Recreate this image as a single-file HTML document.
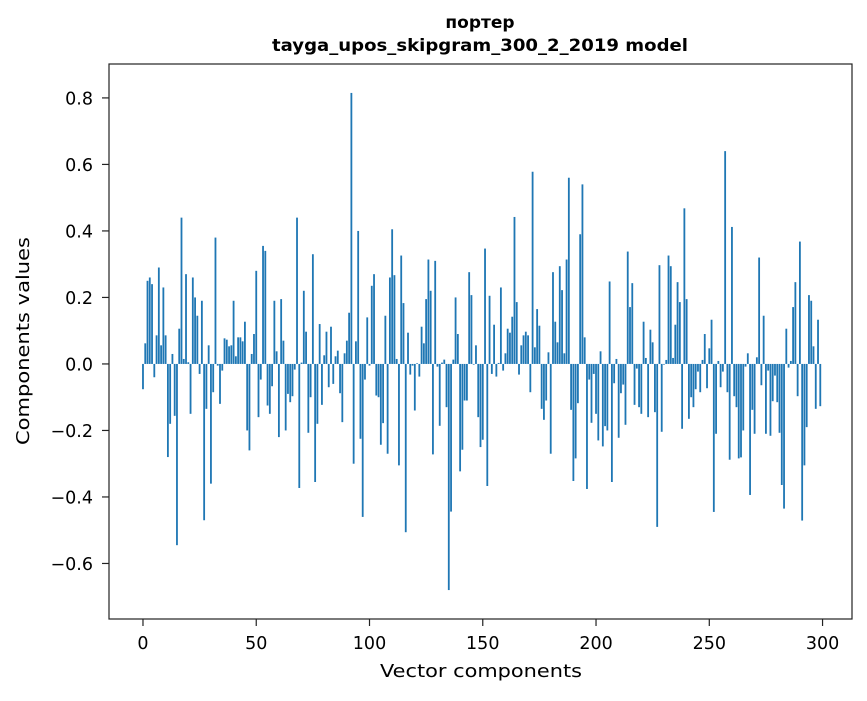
<!DOCTYPE html>
<html><head><meta charset="utf-8"><style>
body{margin:0;background:#fff;}
svg text{font-family:"DejaVu Sans","Liberation Sans",sans-serif;fill:#000;}
</style></head><body>
<svg id="chart" width="867" height="696" xmlns="http://www.w3.org/2000/svg">
<rect width="867" height="696" fill="#fff"/>
<text x="480" y="28" font-size="17" font-weight="bold" text-anchor="middle">портер</text>
<text x="480" y="51" font-size="17" font-weight="bold" text-anchor="middle" textLength="416" lengthAdjust="spacingAndGlyphs">tayga_upos_skipgram_300_2_2019 model</text>
<g id="bars"></g>
<g id="axes"></g>
<rect x="109" y="64" width="743" height="555" fill="none" stroke="#222" stroke-width="1.2"/>
<text x="481" y="677" font-size="18" text-anchor="middle" textLength="202" lengthAdjust="spacingAndGlyphs">Vector components</text>
<text transform="translate(29,341) rotate(-90)" font-size="18" text-anchor="middle" textLength="208" lengthAdjust="spacingAndGlyphs">Components values</text>
</svg>
<script>
const values = [-0.076,0.062,0.25,0.26,0.24,-0.04,0.086,0.29,0.056,0.23,
0.086,-0.28,-0.18,0.03,-0.156,-0.545,0.106,0.44,0.015,0.27,
0.005,-0.15,0.26,0.2,0.145,-0.03,0.19,-0.47,-0.135,0.056,
-0.36,-0.085,0.38,-0.005,-0.12,-0.02,0.077,0.073,0.053,0.056,
0.19,0.023,0.08,0.08,0.068,0.127,-0.2,-0.26,0.03,0.09,
0.28,-0.16,-0.047,0.355,0.34,-0.125,-0.15,-0.067,0.19,0.038,
-0.22,0.195,0.07,-0.2,-0.09,-0.115,-0.097,-0.017,0.44,-0.373,
0.004,0.22,0.097,-0.207,-0.1,0.33,-0.355,-0.18,0.12,-0.123,
0.026,0.097,-0.07,0.112,-0.06,0.023,0.04,-0.088,-0.175,0.032,
0.07,0.154,0.815,-0.3,0.068,0.4,-0.225,-0.46,-0.047,0.14,
-0.005,0.235,0.27,-0.095,-0.1,-0.243,-0.178,0.145,-0.27,0.26,
0.405,0.267,0.015,-0.305,0.326,0.183,-0.506,0.094,-0.032,-0.005,
-0.14,0.002,-0.038,0.112,0.062,0.195,0.314,0.22,-0.272,0.31,
-0.008,-0.186,0.004,0.013,-0.13,-0.68,-0.444,0.013,0.2,0.09,
-0.323,-0.258,-0.11,-0.11,0.276,0.207,-0.002,0.056,-0.16,-0.25,
-0.228,0.347,-0.367,0.205,-0.03,0.118,-0.038,0.003,0.23,-0.02,
0.032,0.106,0.094,0.142,0.442,0.186,-0.032,0.056,0.086,0.097,
0.086,-0.085,0.578,0.05,0.165,0.115,-0.135,-0.168,-0.11,0.035,
-0.27,0.276,0.127,0.065,0.294,0.222,0.032,0.314,0.56,-0.138,
-0.352,-0.284,-0.118,0.39,0.54,0.08,-0.376,-0.047,-0.177,-0.03,
-0.15,-0.23,0.038,-0.248,-0.187,-0.2,0.248,-0.355,-0.058,0.015,
-0.222,-0.088,-0.062,-0.183,0.338,0.171,0.243,-0.123,-0.014,-0.13,
-0.15,0.127,0.018,-0.16,0.103,0.065,-0.145,-0.49,0.297,-0.204,
-0.002,0.012,0.326,0.294,0.018,0.118,0.246,0.186,-0.195,0.468,
0.195,-0.165,-0.1,-0.13,-0.076,-0.023,-0.085,0.012,0.09,-0.073,
0.047,0.133,-0.445,-0.21,0.009,-0.07,-0.023,0.64,-0.085,-0.288,
0.412,-0.097,-0.13,-0.284,-0.281,-0.2,-0.008,0.032,-0.394,-0.138,
-0.21,0.02,0.32,-0.064,0.145,-0.21,-0.02,-0.216,-0.112,-0.035,
-0.115,-0.207,-0.364,-0.435,0.106,-0.011,0.009,0.171,0.246,-0.097,
0.368,-0.471,-0.305,-0.19,0.207,0.19,0.053,-0.135,0.133,-0.127];
const xTicks = [0,50,100,150,200,250,300];
const yTicks = [-0.6,-0.4,-0.2,0.0,0.2,0.4,0.6,0.8];
const yTickLabels = ["\u22120.6","\u22120.4","\u22120.2","0.0","0.2","0.4","0.6","0.8"];

const X0=109,X1=852,Y0=64,Y1=619;
const xMin=-15.0,xMax=313.0,yMin=-0.767,yMax=0.902;
function xs(v){return X0+(v-xMin)/(xMax-xMin)*(X1-X0);}
function ys(v){return Y1-(v-yMin)/(yMax-yMin)*(Y1-Y0);}
const NS="http://www.w3.org/2000/svg";
const bars=document.getElementById('bars');
const bw=xs(0.8)-xs(0);
values.forEach((v,i)=>{
  const r=document.createElementNS(NS,'rect');
  const yA=ys(Math.max(v,0)),yB=ys(Math.min(v,0));
  r.setAttribute('x',xs(i)-bw/2);
  r.setAttribute('y',yA);
  r.setAttribute('width',bw);
  r.setAttribute('height',Math.max(yB-yA,0.3));
  r.setAttribute('fill','#1f77b4');
  
  
  bars.appendChild(r);
});
const axes=document.getElementById('axes');
xTicks.forEach(t=>{
  const l=document.createElementNS(NS,'line');
  l.setAttribute('x1',xs(t));l.setAttribute('x2',xs(t));
  l.setAttribute('y1',Y1);l.setAttribute('y2',Y1+7);
  l.setAttribute('stroke','#222');l.setAttribute('stroke-width','1.2');
  
  
  axes.appendChild(l);
  const tx=document.createElementNS(NS,'text');
  tx.setAttribute('x',xs(t));tx.setAttribute('y',649);
  tx.setAttribute('font-size','17.5');tx.setAttribute('text-anchor','middle');
  tx.textContent=t;
  
  
  axes.appendChild(tx);
});
yTicks.forEach((t,i)=>{
  const l=document.createElementNS(NS,'line');
  l.setAttribute('x1',X0-7);l.setAttribute('x2',X0);
  l.setAttribute('y1',ys(t));l.setAttribute('y2',ys(t));
  l.setAttribute('stroke','#222');l.setAttribute('stroke-width','1.2');
  
  
  axes.appendChild(l);
  const tx=document.createElementNS(NS,'text');
  tx.setAttribute('x',93);tx.setAttribute('y',ys(t)+6.5);
  tx.setAttribute('font-size','17.5');tx.setAttribute('text-anchor','end');
  tx.textContent=yTickLabels[i];
  
  
  axes.appendChild(tx);
});
</script>
</body></html>
